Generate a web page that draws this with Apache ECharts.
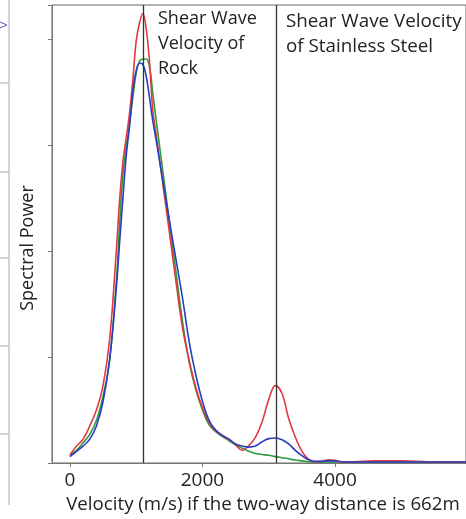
<!DOCTYPE html>
<html>
<head>
<meta charset="utf-8">
<script src="https://cdn.jsdelivr.net/npm/echarts@6/dist/echarts.min.js"></script>
<style>
html,body{margin:0;padding:0;background:#fff;}
#chart{width:466px;height:519px;}
</style>
</head>
<body>
<div id="chart"></div>
<script>
// Velocity grid (m/s)
var velocity = [0,100,200,300,400,500,600,700,750,800,850,900,950,1000,1050,1100,1150,1200,1250,1300,1400,1500,1600,1700,1800,1900,2000,2100,2200,2300,2400,2500,2600,2700,2800,2900,3000,3100,3200,3300,3400,3500,3600,3700,3800,3900,4000,4100,4300,4600,5000,5400,6000];
var redPower   = [0.075,0.16,0.225,0.35,0.50,0.73,1.17,2.00,2.48,2.84,3.07,3.30,3.62,3.98,4.15,4.24,4.10,3.79,3.33,3.10,2.64,2.18,1.71,1.27,0.965,0.71,0.52,0.38,0.30,0.26,0.22,0.17,0.12,0.165,0.245,0.39,0.60,0.73,0.655,0.42,0.245,0.11,0.035,0.012,0.015,0.03,0.025,0.01,0.012,0.02,0.02,0.012,0.01];
var greenPower = [0.075,0.12,0.19,0.27,0.40,0.63,0.97,1.71,2.25,2.72,2.98,3.20,3.45,3.68,3.79,3.81,3.81,3.74,3.49,3.24,2.76,2.28,1.80,1.33,0.95,0.69,0.50,0.36,0.295,0.25,0.21,0.17,0.14,0.11,0.09,0.08,0.073,0.06,0.05,0.04,0.028,0.02,0.012,0.01,0.01,0.01,0.01,0.01,0.01,0.01,0.01,0.01,0.01];
var bluePower  = [0.06,0.11,0.16,0.225,0.35,0.58,0.98,1.65,2.08,2.50,2.90,3.18,3.51,3.70,3.77,3.76,3.65,3.45,3.23,3.05,2.67,2.29,1.92,1.55,1.14,0.83,0.58,0.40,0.31,0.26,0.225,0.18,0.16,0.15,0.16,0.20,0.23,0.236,0.22,0.18,0.12,0.07,0.03,0.015,0.015,0.02,0.02,0.012,0.01,0.01,0.01,0.01,0.01];
var xTickValues = [0,2000,4000];
var markerVelocities = [1100, 3110];
var xAxisTitle = 'Velocity (m/s) if the two-way distance is 662m';
var yAxisTitle = 'Spectral Power';
var note1 = 'Shear Wave\nVelocity of\nRock';
var note2 = 'Shear Wave Velocity\nof Stainless Steel';

function pairs(ys){ return velocity.map(function(v,i){ return [v, ys[i]]; }); }

var chart = echarts.init(document.getElementById('chart'), null, {renderer:'canvas'});
var FONT = '"Open Sans", sans-serif';
var lineBase = {type:'line', showSymbol:false, symbol:'none', smooth:0.4, z:3};

chart.setOption({
  animation:false,
  backgroundColor:'#ffffff',
  grid:{left:52, top:5, right:-3, bottom:56, show:true, borderColor:'#666', borderWidth:1},
  xAxis:{
    type:'value', min:-270, max:5975,
    axisLine:{show:true, onZero:false, lineStyle:{color:'#777', width:1}},
    axisTick:{show:true, customValues:xTickValues, length:4, lineStyle:{color:'#777'}},
    axisLabel:{show:true, customValues:xTickValues, fontSize:19, color:'#222', fontFamily:FONT, margin:8,
      formatter:function(v){return String(v);}},
    splitLine:{show:false},
    name:xAxisTitle, nameLocation:'middle', nameGap:31,
    nameTextStyle:{fontSize:18.7, color:'#222', fontFamily:FONT, padding:[0,0,0,8]}
  },
  yAxis:{
    type:'value', min:0, max:4.32, interval:1,
    axisLine:{show:true, onZero:false, lineStyle:{color:'#777', width:1}},
    axisTick:{show:true, length:4, lineStyle:{color:'#777'}},
    axisLabel:{show:false},
    splitLine:{show:false}
  },
  series:[
    Object.assign({}, lineBase, {name:'green', data:pairs(greenPower), lineStyle:{width:1.6, color:'#2e9a3c'}, itemStyle:{color:'#2e9a3c'}}),
    Object.assign({}, lineBase, {name:'red', data:pairs(redPower), lineStyle:{width:1.6, color:'#e0393f'}, itemStyle:{color:'#e0393f'},
      markLine:{silent:true, symbol:['none','none'], label:{show:false}, lineStyle:{color:'#333', width:1.3, type:'solid'},
        data:markerVelocities.map(function(v){return {xAxis:v};})}}),
    Object.assign({}, lineBase, {name:'blue', data:pairs(bluePower), lineStyle:{width:1.6, color:'#2a3dc2'}, itemStyle:{color:'#2a3dc2'}})
  ],
  graphic:[
    {type:'text', left:158, top:6, style:{text:note1, font:'18px "Open Sans", sans-serif', fill:'#222', lineHeight:25}},
    {type:'text', left:286, top:9, style:{text:note2, font:'18.8px "Open Sans", sans-serif', fill:'#222', lineHeight:25}},
    {type:'text', x:28, y:248, rotation:Math.PI/2, style:{text:yAxisTitle, font:'18px "Open Sans", sans-serif', fill:'#222', align:'center', verticalAlign:'middle'}},
    {type:'line', shape:{x1:9, y1:0, x2:9, y2:505}, style:{stroke:'#aaa', lineWidth:1}},
    {type:'line', shape:{x1:0, y1:83, x2:9, y2:83}, style:{stroke:'#aaa', lineWidth:1}},
    {type:'line', shape:{x1:0, y1:172, x2:9, y2:172}, style:{stroke:'#aaa', lineWidth:1}},
    {type:'line', shape:{x1:0, y1:258, x2:9, y2:258}, style:{stroke:'#aaa', lineWidth:1}},
    {type:'line', shape:{x1:0, y1:346, x2:9, y2:346}, style:{stroke:'#aaa', lineWidth:1}},
    {type:'line', shape:{x1:0, y1:434, x2:9, y2:434}, style:{stroke:'#aaa', lineWidth:1}},
    {type:'polyline', shape:{points:[[0,22],[7,25],[0,28]]}, style:{stroke:'#5560c0', lineWidth:1, fill:null}}
  ]
});
</script>
</body>
</html>
